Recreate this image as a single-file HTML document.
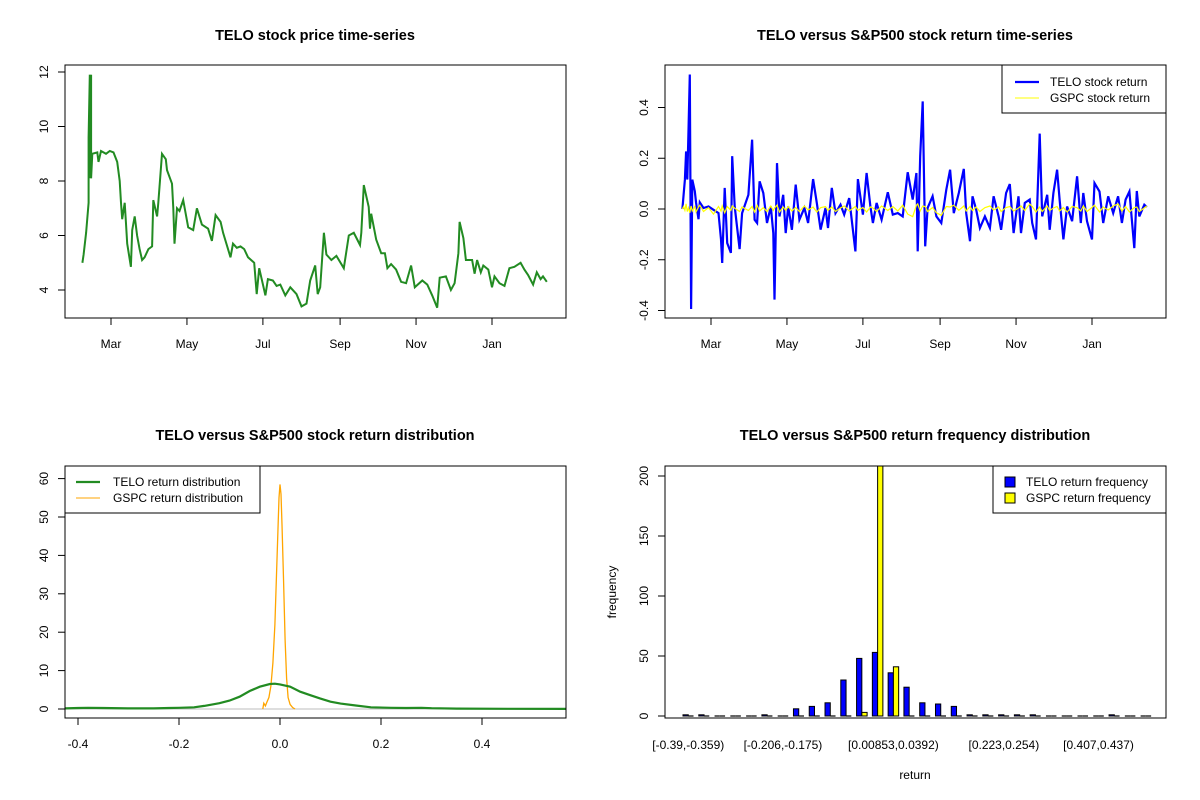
<!DOCTYPE html>
<html><head><meta charset="utf-8"><style>
html,body{margin:0;padding:0;background:#fff;}
svg{display:block;font-family:"Liberation Sans",Arial,sans-serif;}
</style></head><body>
<svg id="c" width="1200" height="800" viewBox="0 0 1200 800"></svg>
<script>
// ---- Panel 1: price data ----
const priceDays=[37,38,40,42,42,43,43,44,44,45,45,49,50,52,56,59,62,65,67,68,69,71,72,73,76,77,79,81,83,85,87,90,93,94,97,98,101,104,105,109,110,111,113,115,118,120,122,126,129,133,138,141,144,148,150,156,158,161,164,167,170,175,177,179,184,186,190,193,196,200,204,209,213,217,220,224,226,228,231,233,237,241,247,251,255,260,261,263,267,268,269,273,277,280,282,285,289,293,297,301,304,310,314,318,322,324,329,333,336,339,340,343,345,350,352,354,357,359,363,366,368,372,376,380,384,389,392,395,399,402,405,407,410];
const priceVals=[5.0,5.3,6.1,7.2,9.6,11.9,8.1,11.9,8.1,9.0,9.0,9.05,8.7,9.1,9.0,9.1,9.05,8.7,8.0,7.2,6.6,7.2,6.5,5.7,4.85,6.2,6.7,6.0,5.5,5.1,5.2,5.5,5.6,7.3,6.7,7.2,9.0,8.8,8.4,7.9,7.0,5.7,7.0,6.9,7.3,6.8,6.3,6.2,7.0,6.4,6.25,5.8,6.75,6.5,6.1,5.2,5.7,5.55,5.6,5.5,5.2,5.0,3.85,4.8,3.8,4.4,4.35,4.15,4.2,3.8,4.1,3.85,3.4,3.5,4.35,4.9,3.85,4.1,6.1,5.3,5.1,5.25,4.8,6.0,6.1,5.65,6.1,7.85,7.05,6.25,6.8,5.85,5.35,5.35,4.8,4.95,4.75,4.3,4.25,4.9,4.1,4.35,4.2,3.8,3.35,4.45,4.5,4.0,4.25,5.35,6.5,5.9,5.1,5.1,4.6,5.1,4.65,4.9,4.75,4.1,4.5,4.25,4.15,4.8,4.85,5.0,4.75,4.55,4.2,4.65,4.4,4.5,4.3];
const monthTickDays=[60,121,182,244,305,366];
const monthTickLabels=["Mar","May","Jul","Sep","Nov","Jan"];
const priceTicks=[4,6,8,10,12];
// ---- Panel 2: returns ----
const retDays=[37,38,39,40,41,42,43,44,45,47,48,50,51,54,58,62,66,68,69,71,73,76,77,79,83,85,90,93,95,97,99,102,105,108,110,111,113,115,118,120,122,125,128,131,135,138,142,145,148,152,154,157,160,164,167,171,176,178,182,185,188,190,193,197,202,206,210,214,218,222,225,226,228,230,232,234,238,241,245,249,252,255,259,263,265,268,270,273,276,280,284,287,291,293,297,300,303,307,309,312,316,318,321,324,326,330,332,335,338,340,343,346,350,354,357,359,362,366,368,372,375,379,383,387,390,393,396,400,402,404,408,410];
const teloRet=[0,0.056,0.116,0.227,0.116,0.326,0.53,-0.394,0.116,0.07,0.024,-0.04,0.026,0.004,0.01,-0.003,-0.016,-0.12,-0.213,0.083,-0.134,-0.173,0.208,0.01,-0.158,-0.016,0.056,0.273,-0.042,-0.055,0.109,0.063,-0.055,0.01,-0.095,-0.357,0.181,-0.029,0.056,-0.095,0.01,-0.082,0.096,-0.042,0.004,-0.055,0.118,0.024,-0.081,0.004,-0.075,0.083,-0.016,0.017,-0.022,0.043,-0.167,0.118,-0.022,0.142,0.01,-0.055,0.024,-0.042,0.066,-0.022,-0.016,-0.029,0.145,0.037,0.142,-0.167,0.208,0.424,-0.147,0.004,0.05,-0.029,-0.055,0.076,0.155,-0.016,0.063,0.158,-0.016,-0.127,0.05,-0.003,-0.075,-0.029,-0.075,0.05,-0.029,-0.082,0.063,0.098,-0.095,0.05,-0.095,0.024,0.037,-0.055,-0.12,0.297,-0.029,0.056,-0.082,0.063,0.155,0.037,-0.12,0.01,-0.048,0.129,-0.055,0.063,-0.048,-0.12,0.102,0.069,-0.055,0.05,-0.016,0.05,-0.055,0.037,0.069,-0.154,0.071,-0.029,0.017,0.008];
const gspcRet=[0,0.01,-0.005,0.02,-0.01,0.005,-0.015,0.012,-0.008,0.01,-0.012,0.008,0.015,-0.01,0.005,-0.02,0.01,-0.008,0.012,-0.015,0.01,-0.005,0.012,0.003,-0.01,0.008,-0.006,0.01,-0.012,0.015,-0.008,0.005,-0.01,0.012,-0.006,0.004,0.015,-0.012,0.008,-0.005,0.01,-0.008,0.006,-0.01,0.012,-0.004,0.008,-0.012,0.005,0.01,-0.006,0.008,-0.01,0.004,0.012,-0.008,0.01,-0.005,0.006,-0.012,0.008,0.004,-0.01,0.012,-0.006,0.01,-0.008,0.015,-0.02,-0.03,0.015,0.02,-0.008,0.012,0.01,-0.01,0.006,-0.015,-0.025,0.01,0.008,0.015,-0.005,0.012,-0.008,0.01,-0.006,0.008,-0.01,0.005,0.012,-0.004,0.008,-0.01,0.006,0.01,-0.008,0.004,0.012,-0.006,0.02,0.01,-0.012,0.008,-0.01,0.012,-0.006,0.004,0.01,-0.008,0.006,-0.012,0.01,0.005,-0.008,0.012,-0.01,0.006,0.015,-0.012,0.008,-0.004,0.012,0.02,-0.008,0.01,-0.012,0.006,0.008,-0.01,0.004,0.012];
const retTicks=[-0.4,-0.2,0.0,0.2,0.4];
// ---- Panel 3: densities ----
const teloDensX=[-0.43,-0.4,-0.38,-0.35,-0.3,-0.25,-0.22,-0.2,-0.17,-0.15,-0.12,-0.1,-0.08,-0.06,-0.04,-0.02,-0.01,0.0,0.02,0.04,0.06,0.08,0.1,0.12,0.15,0.18,0.22,0.25,0.28,0.3,0.35,0.45,0.57];
const teloDensY=[0.15,0.25,0.3,0.25,0.15,0.15,0.25,0.3,0.45,0.8,1.5,2.2,3.2,4.7,5.8,6.5,6.6,6.4,5.8,4.5,3.6,2.7,1.9,1.4,0.9,0.45,0.3,0.25,0.3,0.2,0.1,0.05,0.02];
const gspcDensX=[-0.034,-0.032,-0.029,-0.026,-0.022,-0.018,-0.014,-0.01,-0.007,-0.004,-0.002,0.0,0.002,0.004,0.007,0.01,0.013,0.016,0.02,0.025,0.03];
const gspcDensY=[0,1.5,0.8,1.8,3,6,12,22,35,47,55,58.5,56,48,34,18,8,3,1.2,0.4,0];
const densXTicks=[-0.4,-0.2,0.0,0.2,0.4];
const densYTicks=[0,10,20,30,40,50,60];
// ---- Panel 4: histogram ----
const teloFreq=[1,1,0,0,0,1,0,6,8,11,30,48,53,36,24,11,10,8,1,1,1,1,1,0,0,0,0,1,0,0];
const gspcFreq=[0,0,0,0,0,0,0,0,0,0,0,3,210,41,0,0,0,0,0,0,0,0,0,0,0,0,0,0,0,0];
const binLabels=["[-0.39,-0.359)","[-0.206,-0.175)","[0.00853,0.0392)","[0.223,0.254)","[0.407,0.437)"];
const binLabelIdx=[0,6,13,20,26];
const freqTicks=[0,50,100,150,200];

const NS="http://www.w3.org/2000/svg";
const svg=document.getElementById('c');
function el(tag,attrs,parent,txt){const e=document.createElementNS(NS,tag);for(const k in attrs)e.setAttribute(k,attrs[k]);if(txt!==undefined)e.textContent=txt;(parent||svg).appendChild(e);return e;}
function grp(name){const g=el('g',{});


return g;}
function text(parent,x,y,s,opt){opt=opt||{};const a={x:x,y:y,'font-size':opt.size||12,'text-anchor':opt.anchor||'middle',fill:'#000'};if(opt.bold)a['font-weight']='bold';if(opt.rot)a.transform='rotate(-90 '+x+' '+y+')';const t=el('text',a,parent,s);return t;}
function box(parent,x0,y0,x1,y1){el('rect',{x:x0,y:y0,width:x1-x0,height:y1-y0,fill:'none',stroke:'#000','stroke-width':1},parent);}
function pathOf(xs,ys,fx,fy){return xs.map((v,i)=>(i?'L':'M')+fx(v).toFixed(1)+','+fy(ys[i]).toFixed(1)).join('');}
function yAxis(g,x,ticks,fy,fmt){ticks.forEach(t=>{const y=fy(t);el('line',{x1:x-7,y1:y,x2:x,y2:y,stroke:'#000'},g);const tt=text(g,x-17,y,fmt?fmt(t):String(t),{rot:true});

});}
function xAxis(g,yb,ticks,fx,labels){ticks.forEach((t,i)=>{const x=fx(t);el('line',{x1:x,y1:yb,x2:x,y2:yb+7,stroke:'#000'},g);const tt=text(g,x,yb+30,labels[i]);

});}
function clip(id,x0,y0,x1,y1){const c=el('clipPath',{id:id});el('rect',{x:x0,y:y0,width:x1-x0,height:y1-y0},c);}

// Panel 1
(function(){const g=grp('price-panel');const L=65,R=566,T=65,B=318;
const fx=d=>111+(d-60)*(492-111)/306, fy=v=>290-(v-4)*27.25;
const t=text(g,315,40,'TELO stock price time-series',{size:14.5,bold:true});


clip('c1',L,T,R,B);
const p=el('path',{d:pathOf(priceDays,priceVals,fx,fy),fill:'none',stroke:'#228B22','stroke-width':2,'clip-path':'url(#c1)'},g);


box(g,L,T,R,B);yAxis(g,L,priceTicks,fy);xAxis(g,B,monthTickDays,fx,monthTickLabels);})();

// Panel 2
(function(){const g=grp('returns-panel');const L=665,R=1166,T=65,B=318;
const fx=d=>711+(d-60)*(1092-711)/306, fy=v=>209-v*253.75;
const t=text(g,915,40,'TELO versus S&P500 stock return time-series',{size:14.5,bold:true});


clip('c2',L,T,R,B);
const p=el('path',{d:pathOf(retDays,teloRet,fx,fy),fill:'none',stroke:'#0000FF','stroke-width':2.2,'clip-path':'url(#c2)'},g);


const q=el('path',{d:pathOf(retDays,gspcRet,fx,fy),fill:'none',stroke:'#FFFF00','stroke-width':1.2,'clip-path':'url(#c2)'},g);


box(g,L,T,R,B);yAxis(g,L,retTicks,fy,v=>v.toFixed(1));xAxis(g,B,monthTickDays,fx,monthTickLabels);
const lg=grp('returns-legend');el('rect',{x:1002,y:65,width:164,height:48,fill:'#fff',stroke:'#000'},lg);
el('line',{x1:1015,y1:82,x2:1039,y2:82,stroke:'#0000FF','stroke-width':2.2},lg);el('line',{x1:1015,y1:98,x2:1039,y2:98,stroke:'#FFFF00','stroke-width':1},lg);
text(lg,1050,86,'TELO stock return',{anchor:'start'});text(lg,1050,102,'GSPC stock return',{anchor:'start'});})();

// Panel 3
(function(){const g=grp('density-panel');const L=65,R=566,T=466,B=718;
const fx=v=>280+v*505, fy=v=>709-v*3.84;
const t=text(g,315,440,'TELO versus S&P500 stock return distribution',{size:14.5,bold:true});


clip('c3',L,T,R,B);
el('line',{x1:L,y1:fy(0),x2:R,y2:fy(0),stroke:'#bebebe'},g);
const q=el('path',{d:pathOf(gspcDensX,gspcDensY,fx,fy),fill:'none',stroke:'#FFA500','stroke-width':1.3,'clip-path':'url(#c3)'},g);


const p=el('path',{d:pathOf(teloDensX,teloDensY,fx,fy),fill:'none',stroke:'#228B22','stroke-width':2.2,'clip-path':'url(#c3)'},g);


box(g,L,T,R,B);yAxis(g,L,densYTicks,fy);xAxis(g,B,densXTicks,fx,densXTicks.map(v=>v.toFixed(1)));
const lg=grp('density-legend');el('rect',{x:65,y:466,width:195,height:47,fill:'#fff',stroke:'#000'},lg);
el('line',{x1:76,y1:482,x2:100,y2:482,stroke:'#228B22','stroke-width':2.2},lg);el('line',{x1:76,y1:498,x2:100,y2:498,stroke:'#FFA500','stroke-width':1},lg);
text(lg,113,486,'TELO return distribution',{anchor:'start'});text(lg,113,502,'GSPC return distribution',{anchor:'start'});})();

// Panel 4
(function(){const g=grp('histogram-panel');const L=665,R=1166,T=466,B=718;
const unit=5.26, x0=683, fy=v=>716-v*1.2;
const gx=i=>x0+i*3*unit;
const t=text(g,915,440,'TELO versus S&P500 return frequency distribution',{size:14.5,bold:true});


clip('c4',L,T,R,B);
function bar(x,v,fill,name){
  if(v===0){const l=el('line',{x1:x,y1:fy(0),x2:x+unit,y2:fy(0),stroke:'#000','stroke-width':1.2},g);
  
  return;}
  const r=el('rect',{x:x,y:fy(v),width:unit,height:fy(0)-fy(v),fill:fill,stroke:'#000','stroke-width':1,'clip-path':'url(#c4)'},g);
  
  }
teloFreq.forEach((v,i)=>bar(gx(i),v,'#0000FF','telo-freq-bar'));
gspcFreq.forEach((v,i)=>bar(gx(i)+unit,v,'#FFFF00','gspc-freq-bar'));
box(g,L,T,R,B);yAxis(g,L,freqTicks,fy);
binLabelIdx.forEach((b,k)=>{const tt=text(g,gx(b)+unit,749,binLabels[k]);

});
const xl=text(g,915,779,'return');

const yl=text(g,616,592,'frequency',{rot:true});

const lg=grp('histogram-legend');el('rect',{x:993,y:466,width:173,height:47,fill:'#fff',stroke:'#000'},lg);
el('rect',{x:1005,y:477,width:10,height:10,fill:'#0000FF',stroke:'#000'},lg);el('rect',{x:1005,y:493,width:10,height:10,fill:'#FFFF00',stroke:'#000'},lg);
text(lg,1026,486,'TELO return frequency',{anchor:'start'});text(lg,1026,502,'GSPC return frequency',{anchor:'start'});})();
</script>
</body></html>
